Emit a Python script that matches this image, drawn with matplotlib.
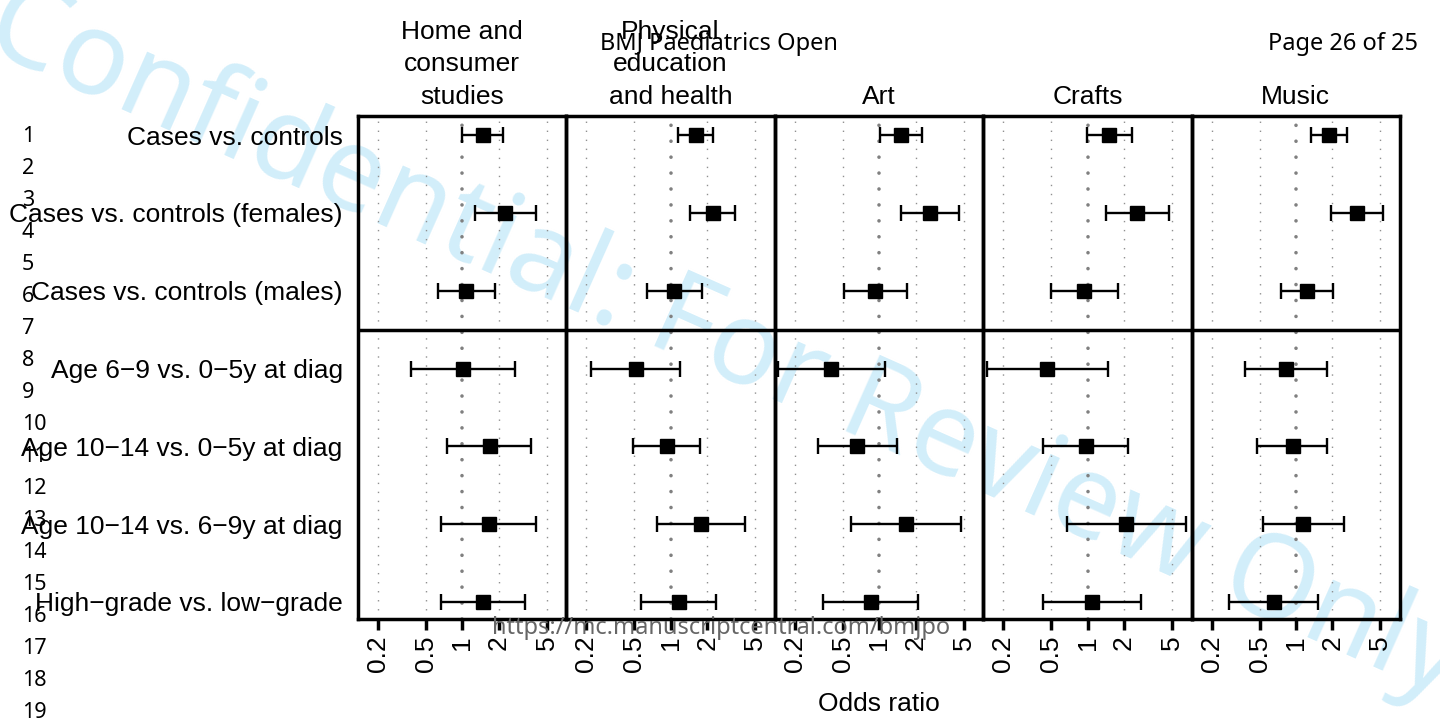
import matplotlib
matplotlib.use('Agg')
import matplotlib.pyplot as plt

# comparisons (rows, top to bottom)
rows = ['Cases vs. controls', 'Cases vs. controls (females)', 'Cases vs. controls (males)',
        'Age 6\u22129 vs. 0\u22125y at diag', 'Age 10\u221214 vs. 0\u22125y at diag',
        'Age 10\u221214 vs. 6\u22129y at diag', 'High\u2212grade vs. low\u2212grade']

subjects = ['Home and\nconsumer\nstudies', 'Physical\neducation\nand health', 'Art', 'Crafts', 'Music']

# odds ratios and 95% CI per subject
home_or = [1.49, 2.26, 1.07, 1.01, 1.68, 1.65, 1.49]
home_lo = [1.00, 1.27, 0.63, 0.376, 0.75, 0.67, 0.67]
home_hi = [2.18, 4.03, 1.86, 2.73, 3.73, 4.08, 3.29]

pe_or = [1.61, 2.22, 1.06, 0.52, 0.93, 1.79, 1.16]
pe_lo = [1.14, 1.44, 0.63, 0.22, 0.49, 0.77, 0.57]
pe_hi = [2.24, 3.41, 1.80, 1.20, 1.74, 4.14, 2.36]

art_or = [1.53, 2.64, 0.93, 0.40, 0.66, 1.67, 0.86]
art_lo = [1.01, 1.51, 0.51, 0.145, 0.31, 0.58, 0.345]
art_hi = [2.28, 4.58, 1.69, 1.12, 1.41, 4.79, 2.11]

crafts_or = [1.51, 2.56, 0.94, 0.46, 0.97, 2.08, 1.09]
crafts_lo = [0.99, 1.41, 0.50, 0.147, 0.43, 0.67, 0.43]
crafts_hi = [2.33, 4.73, 1.79, 1.47, 2.18, 6.52, 2.76]

music_or = [1.88, 3.20, 1.23, 0.83, 0.94, 1.14, 0.66]
music_lo = [1.34, 1.96, 0.75, 0.38, 0.48, 0.53, 0.28]
music_hi = [2.66, 5.28, 2.01, 1.80, 1.82, 2.48, 1.51]

xticks = [0.2, 0.5, 1, 2, 5]
xticklabels = ['0.2', '0.5', '1', '2', '5']

panels = [(home_or, home_lo, home_hi), (pe_or, pe_lo, pe_hi), (art_or, art_lo, art_hi),
          (crafts_or, crafts_lo, crafts_hi), (music_or, music_lo, music_hi)]

plt.rcParams['font.family'] = ['Liberation Sans', 'DejaVu Sans']
plt.rcParams['font.size'] = 19

fig = plt.figure(figsize=(14.4, 7.2), dpi=100)
axes = fig.subplots(1, 5, sharey=True)
fig.subplots_adjust(left=358/1440, right=1400/1440, top=1-115.7/720, bottom=1-619/720, wspace=0)

# watermark behind everything
fig.text(0.504, 0.522, 'Confidential: For Review Only', rotation=-24, fontsize=84,
         color='#d2eefa', ha='center', va='center', rotation_mode='anchor',
         family=['Noto Sans', 'DejaVu Sans'], zorder=-1)

ypos = list(range(1, len(rows) + 1))

for i, ax in enumerate(axes):
    orr, lo, hi = panels[i]
    ax.set_facecolor('none')
    ax.set_xscale('log')
    ax.set_xlim(10**-0.864, 10**0.861)
    ax.set_ylim(7.22, 0.75)
    # reference lines
    for v in xticks:
        if v == 1:
            ax.axvline(v, color='#808080', lw=2.6, linestyle=(0, (0.01, 4.4)),
                       dash_capstyle='round', zorder=1)
        else:
            ax.axvline(v, color='#909090', lw=1, linestyle=(0, (1, 5.5)), zorder=1)
    ax.axhline(3.5, color='black', lw=2.5, zorder=3)
    errl = [o - l for o, l in zip(orr, lo)]
    errh = [h - o for o, h in zip(orr, hi)]
    ax.errorbar(orr, ypos, xerr=[errl, errh], fmt='s', color='black', ms=9.5,
                capsize=5.5, elinewidth=1.7, capthick=1.7, zorder=4)
    ax.set_xticks(xticks)
    ax.set_xticklabels(xticklabels, rotation=90)
    ax.minorticks_off()
    ax.tick_params(axis='x', length=8, width=2.5, pad=4)
    ax.tick_params(axis='y', length=0, pad=11)
    for s in ax.spines.values():
        s.set_linewidth(2.5)
    ax.text(0.5, 1.014, subjects[i], transform=ax.transAxes, ha='center', va='bottom',
            linespacing=1.45)
    if i > 0:
        ax.tick_params(axis='y', labelleft=False)

axes[0].set_yticks(ypos)
axes[0].set_yticklabels(rows)

fig.text(879/1440, 1-704/720, 'Odds ratio', ha='center', va='center')

# page furniture
other = ['Noto Sans', 'DejaVu Sans']
for n in range(1, 20):
    fig.text(22/1440, 1 - (137 + (n - 1) * 32.0)/720, str(n), ha='left', va='center',
             fontsize=15.5, family=other)
fig.text(719/1440, 1-44/720, 'BMJ Paediatrics Open', ha='center', va='center',
         fontsize=17, family=other)
fig.text(1418/1440, 1-44/720, 'Page 26 of 25', ha='right', va='center',
         fontsize=17, family=other)
fig.text(721/1440, 1-628/720, 'https://mc.manuscriptcentral.com/bmjpo', ha='center',
         va='center', fontsize=17, color='#666666', family=other)

fig.savefig('out.png', dpi=100)
